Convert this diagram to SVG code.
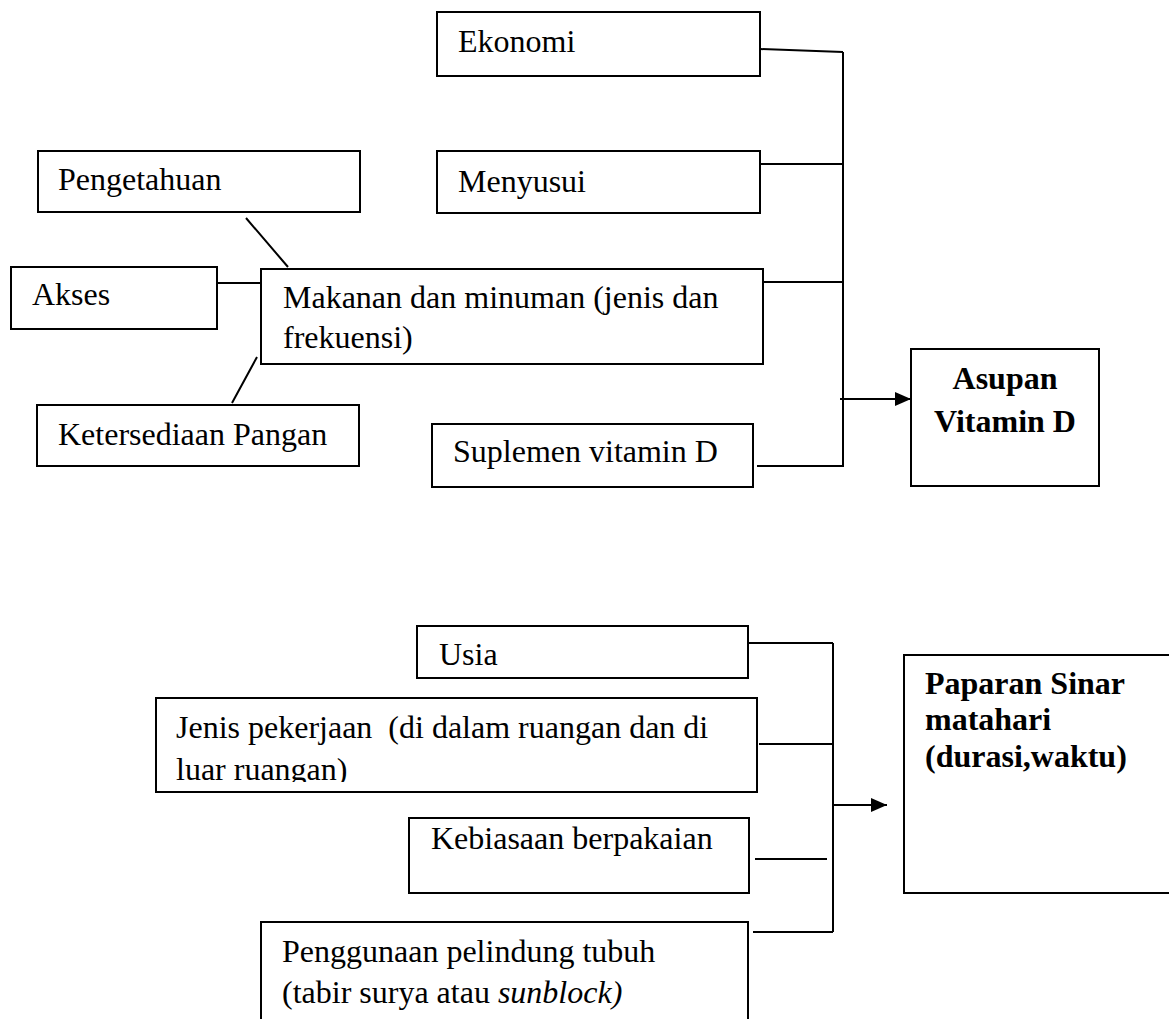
<svg xmlns="http://www.w3.org/2000/svg" width="1169" height="1019" viewBox="0 0 1169 1019">
<style>
.box{fill:#fff;stroke:#000;stroke-width:2}
.t{font-family:"Liberation Serif","Times New Roman",serif;font-size:32px;fill:#000;white-space:pre}
.b{font-weight:bold}
.c{fill:none;stroke:#000;stroke-width:2}
</style>
<defs>
<marker id="arr" markerUnits="userSpaceOnUse" markerWidth="16" markerHeight="14" refX="16" refY="7" orient="auto">
<path d="M0,0 L16,7 L0,14 z" fill="#000"/>
</marker>
<clipPath id="clipJenis"><rect x="150" y="690" width="620" height="92"/></clipPath>
</defs>
<rect width="1169" height="1019" fill="#fff"/>
<g id="connectors">
<path class="c" d="M760,49 L843,52 M843,52 L843,467 M760,164 L843,164 M763,282 L843,282 M757,466 L843,466"/>
<path class="c" d="M840,399 L911,399" marker-end="url(#arr)"/>
<path class="c" d="M246,218 L288,267 M217,283 L261,283 M257,357 L232,403"/>
<path class="c" d="M748,643 L833,643 M833,643 L833,932 M759,744 L833,744 M755,859 L827,859 M753,932 L833,932"/>
<path class="c" d="M833,805 L887,805" marker-end="url(#arr)"/>
</g>
<g id="ekonomi"><rect class="box" x="437" y="12" width="323" height="64"/><text class="t" x="458" y="52">Ekonomi</text></g>
<g id="menyusui"><rect class="box" x="437" y="151" width="323" height="62"/><text class="t" x="458" y="192">Menyusui</text></g>
<g id="pengetahuan"><rect class="box" x="38" y="151" width="322" height="61"/><text class="t" x="58" y="190">Pengetahuan</text></g>
<g id="akses"><rect class="box" x="11" y="267" width="206" height="62"/><text class="t" x="32" y="305">Akses</text></g>
<g id="makanan"><rect class="box" x="261" y="269" width="502" height="95"/><text class="t" x="283" y="308">Makanan dan minuman (jenis dan</text><text class="t" x="283" y="348">frekuensi)</text></g>
<g id="ketersediaan"><rect class="box" x="37" y="405" width="322" height="61"/><text class="t" x="58" y="445">Ketersediaan Pangan</text></g>
<g id="suplemen"><rect class="box" x="432" y="424" width="321" height="63"/><text class="t" x="453" y="462">Suplemen vitamin D</text></g>
<g id="asupan"><rect class="box" x="911" y="349" width="188" height="137"/><text class="t b" x="1005" y="389" text-anchor="middle">Asupan</text><text class="t b" x="1005" y="432" text-anchor="middle">Vitamin D</text></g>
<g id="usia"><rect class="box" x="417" y="626" width="331" height="52"/><text class="t" x="439" y="665">Usia</text></g>
<g id="jenis"><rect class="box" x="156" y="698" width="601" height="94"/><g clip-path="url(#clipJenis)"><text class="t" x="176" y="738">Jenis pekerjaan  (di dalam ruangan dan di</text><text class="t" x="176" y="780">luar ruangan)</text></g></g>
<g id="kebiasaan"><rect class="box" x="409" y="818" width="340" height="75"/><text class="t" x="431" y="849">Kebiasaan berpakaian</text></g>
<g id="penggunaan"><rect class="box" x="261" y="922" width="487" height="110"/><text class="t" x="282" y="962">Penggunaan pelindung tubuh</text><text class="t" x="282" y="1003">(tabir surya atau <tspan font-style="italic">sunblock)</tspan></text></g>
<g id="paparan"><rect class="box" x="904" y="655" width="275" height="238"/><text class="t b" x="925" y="694">Paparan Sinar</text><text class="t b" x="925" y="730">matahari</text><text class="t b" x="925" y="767">(durasi,waktu)</text></g>
</svg>
